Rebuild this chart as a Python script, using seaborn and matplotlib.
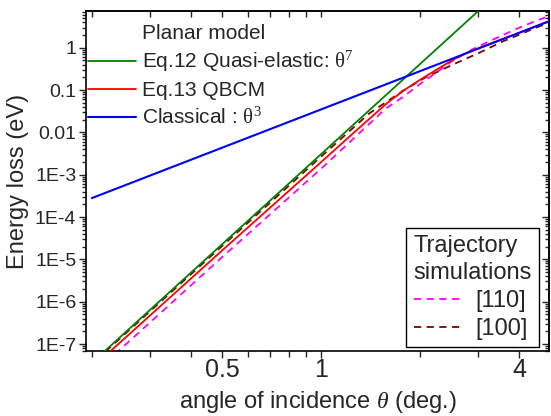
import matplotlib
matplotlib.use("Agg")
import matplotlib.pyplot as plt
import seaborn as sns
import pandas as pd
from matplotlib.lines import Line2D
from matplotlib.ticker import FixedLocator, FixedFormatter, NullFormatter, LogLocator

# ---------------- data ----------------
theta_quasi = [0.219, 3.01]
eloss_quasi = [6.8e-8, 7.4]

theta_class = [0.200, 4.94]
eloss_class = [2.8e-4, 4.22]

theta_qbcm = [0.22, 0.5, 1.0, 1.3, 1.6, 1.8, 2.0, 2.24, 2.51, 2.82, 3.3, 4.0, 5.0]
eloss_qbcm = [5.3e-8, 1.65e-5, 2.0e-3, 1.25e-2, 0.052, 0.103, 0.175, 0.30, 0.51, 0.80, 1.28, 2.24, 4.38]

theta_110 = [0.22, 0.5, 1.0, 1.3, 1.575, 1.77, 1.99, 2.235, 2.51, 2.82, 3.17, 3.55, 4.0, 4.5, 4.94]
eloss_110 = [3.6e-8, 1.15e-5, 1.4e-3, 9.3e-3, 0.037, 0.068, 0.135, 0.255, 0.49, 0.84, 1.3, 1.95, 2.95, 4.3, 5.6]

theta_100 = [0.22, 0.5, 1.0, 1.4, 1.77, 2.08, 2.57, 3.03, 3.55, 4.0, 4.5, 4.94]
eloss_100 = [6.6e-8, 2.1e-5, 2.7e-3, 0.028, 0.095, 0.2, 0.43, 0.76, 1.38, 2.02, 2.95, 3.9]

x_major_ticks = [0.5, 1, 4]
x_major_labels = ["0.5", "1", "4"]
x_minor_ticks = [0.2, 0.3, 0.4, 0.6, 0.7, 0.8, 0.9, 2, 3]
y_major_ticks = [1e-7, 1e-6, 1e-5, 1e-4, 1e-3, 1e-2, 1e-1, 1]
y_major_labels = ["1E-7", "1E-6", "1E-5", "1E-4", "1E-3", "0.01", "0.1", "1"]

# ---------------- style ----------------
sns.set_theme(style="ticks")
plt.rcParams["font.family"] = ["Liberation Sans", "DejaVu Sans"]
plt.rcParams["mathtext.fontset"] = "custom"
plt.rcParams["mathtext.rm"] = "Liberation Serif"
plt.rcParams["mathtext.it"] = "Liberation Serif:italic"
plt.rcParams["mathtext.bf"] = "Liberation Serif:bold"

W, H = 551, 416
fig = plt.figure(figsize=(W / 100, H / 100), dpi=100)
ax = fig.add_axes([86 / W, (H - 351) / H, (549 - 86) / W, (351 - 11) / H])
ax.set_xscale("log")
ax.set_yscale("log")

c_green = "#008000"
c_red = "#ff0000"
c_blue = "#0000ff"
c_mag = "#ff00ff"
c_dred = "#800000"

def df(x, y):
    return pd.DataFrame({"theta": x, "E": y})

lw = 1.3
sns.lineplot(data=df(theta_100, eloss_100), x="theta", y="E", ax=ax, color=c_dred,
             lw=lw, sort=True, zorder=2).lines[-1].set_dashes([4, 3])
sns.lineplot(data=df(theta_110, eloss_110), x="theta", y="E", ax=ax, color=c_mag,
             lw=lw, sort=True, zorder=2).lines[-1].set_dashes([4, 3])
sns.lineplot(data=df(theta_qbcm, eloss_qbcm), x="theta", y="E", ax=ax, color=c_red,
             lw=lw, sort=True, zorder=3)
sns.lineplot(data=df(theta_quasi, eloss_quasi), x="theta", y="E", ax=ax, color=c_green,
             lw=lw, sort=True, zorder=3)
sns.lineplot(data=df(theta_class, eloss_class), x="theta", y="E", ax=ax, color=c_blue,
             lw=1.5, sort=True, zorder=4)

ax.set_xlim(0.192, 4.94)
ax.set_ylim(6.84e-8, 7.37)

# ticks
ax.xaxis.set_major_locator(FixedLocator(x_major_ticks))
ax.xaxis.set_major_formatter(FixedFormatter(x_major_labels))
ax.xaxis.set_minor_locator(FixedLocator(x_minor_ticks))
ax.xaxis.set_minor_formatter(NullFormatter())
ax.yaxis.set_major_locator(FixedLocator(y_major_ticks))
ax.yaxis.set_major_formatter(FixedFormatter(y_major_labels))
ax.yaxis.set_minor_locator(LogLocator(base=10, subs=range(2, 10), numticks=30))
ax.yaxis.set_minor_formatter(NullFormatter())

ax.tick_params(axis="x", which="major", direction="out", length=5, width=1,
               labelsize=18, pad=0, top=False)
ax.tick_params(axis="x", which="minor", direction="out", length=4, width=1, top=False)
ax.tick_params(axis="y", which="major", direction="out", length=5, width=1,
               labelsize=14, pad=2, right=False)
ax.tick_params(axis="y", which="minor", direction="out", length=3, width=1, right=False)

# mirrored inward ticks on top/right
secx = ax.secondary_xaxis("top")
secx.xaxis.set_major_locator(FixedLocator(x_major_ticks))
secx.xaxis.set_minor_locator(FixedLocator(x_minor_ticks))
secx.xaxis.set_major_formatter(NullFormatter())
secx.xaxis.set_minor_formatter(NullFormatter())
secx.tick_params(which="both", direction="in", length=4, width=1)
secy = ax.secondary_yaxis("right")
secy.yaxis.set_major_locator(FixedLocator(y_major_ticks))
secy.yaxis.set_minor_locator(LogLocator(base=10, subs=range(2, 10), numticks=30))
secy.yaxis.set_major_formatter(NullFormatter())
secy.yaxis.set_minor_formatter(NullFormatter())
secy.tick_params(which="major", direction="in", length=5, width=1)
secy.tick_params(which="minor", direction="in", length=3, width=1)

for s in ax.spines.values():
    s.set_linewidth(1.2)
    s.set_color("black")
for s in list(secx.spines.values()) + list(secy.spines.values()):
    s.set_linewidth(1.2)

ax.set_xlabel(r"angle of incidence $\mathit{θ}$ (deg.)", fontsize=17, labelpad=5)
ax.set_ylabel("Energy loss (eV)", fontsize=17, labelpad=4)
ax.grid(False)

# legend 1 : Planar model
h_title = Line2D([], [], color="none")
h1 = Line2D([], [], color=c_green, lw=lw)
h2 = Line2D([], [], color=c_red, lw=lw)
h3 = Line2D([], [], color=c_blue, lw=1.5)
leg1 = ax.legend([h_title, h1, h2, h3],
                 ["Planar model", r"Eq.12 Quasi-elastic: $\mathrm{θ}^7$",
                  "Eq.13 QBCM", r"Classical : $\mathrm{θ}^3$"],
                 loc="upper left", bbox_to_anchor=(0.0, 1 - 10.5 / 340), frameon=False,
                 fontsize=15, handlelength=2.3, handletextpad=0.3,
                 labelspacing=0.32, borderaxespad=0.1, borderpad=0.0)
ax.add_artist(leg1)

# legend 2 : Trajectory simulations
g1 = Line2D([], [], color=c_mag, lw=lw, dashes=[4, 3])
g2 = Line2D([], [], color=c_dred, lw=lw, dashes=[4, 3])
leg2 = ax.legend([g1, g2], ["[110]", "[100]"], title="Trajectory\nsimulations",
                 title_fontsize=17, fontsize=17, loc="lower right",
                 bbox_to_anchor=((539 - 86) / 463, (351 - 347) / 340),
                 borderaxespad=0, frameon=True, fancybox=False, edgecolor="black",
                 framealpha=1, handlelength=2.0, handletextpad=0.6,
                 labelspacing=0.25, borderpad=0.3, alignment="left")
leg2.get_frame().set_linewidth(1.0)
leg2.get_title().set_linespacing(1.3)

fig.savefig("out.png", dpi=100)
